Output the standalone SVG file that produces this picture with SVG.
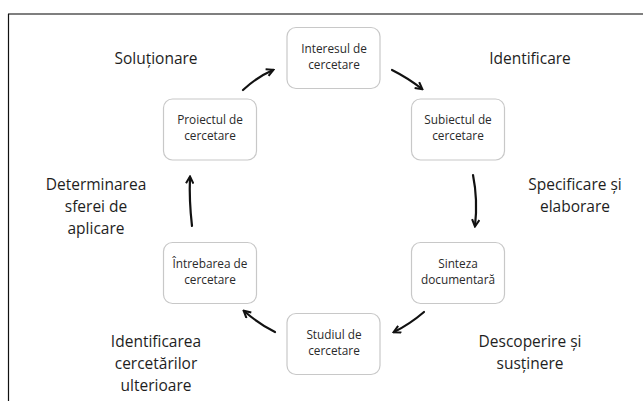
<svg xmlns="http://www.w3.org/2000/svg" width="643" height="401" viewBox="0 0 643 401">
<defs>
<style>
.box{fill:#fff;stroke:#c8c8c8;stroke-width:1.2}
.bt{font-family:"Open Sans","Liberation Sans",sans-serif;font-size:11.8px;fill:#2a2a2a;text-anchor:middle}
.lb{font-family:"Open Sans","Liberation Sans",sans-serif;font-size:15.5px;fill:#1e1e1e;text-anchor:middle}
.ar{fill:none;stroke:#111;stroke-width:2.2;stroke-linecap:round;marker-end:url(#ah)}
</style>
<marker id="ah" viewBox="0 0 10 10" refX="8" refY="5" markerWidth="4.2" markerHeight="4.2" orient="auto" markerUnits="strokeWidth">
<path d="M1,1 L8.5,5 L1,9" fill="none" stroke="#111" stroke-width="2.2" stroke-linejoin="miter"/>
</marker>
</defs>
<rect width="643" height="401" fill="#fff"/>
<g id="frame">
<line x1="8" y1="14" x2="643" y2="14" stroke="#555" stroke-width="1.5"/>
<line x1="8.5" y1="14" x2="8.5" y2="401" stroke="#111" stroke-width="1.2"/>
</g>
<g id="connectors">
<path class="ar" d="M243,90 Q257,77 273,70"/>
<path class="ar" d="M392,70 Q408,78 422,89"/>
<path class="ar" d="M473,175 Q478,200 475,226"/>
<path class="ar" d="M424,312 Q410,324 394,332"/>
<path class="ar" d="M275,332 Q259,324 244,311"/>
<path class="ar" d="M192,226 Q189,200 190,177"/>
</g>
<g id="n-interes"><rect class="box" x="287" y="27.5" width="93" height="61" rx="9"/><text class="bt" x="334" y="53">Interesul de</text><text class="bt" x="334" y="69">cercetare</text></g>
<g id="n-subiect"><rect class="box" x="411.5" y="99" width="93" height="61" rx="9"/><text class="bt" x="458" y="124">Subiectul de</text><text class="bt" x="458" y="140">cercetare</text></g>
<g id="n-sinteza"><rect class="box" x="411.5" y="242.5" width="93" height="61" rx="9"/><text class="bt" x="458" y="268">Sinteza</text><text class="bt" x="458" y="284">documentară</text></g>
<g id="n-studiu"><rect class="box" x="287" y="313.5" width="93" height="61" rx="9"/><text class="bt" x="334" y="339">Studiul de</text><text class="bt" x="334" y="355">cercetare</text></g>
<g id="n-intrebare"><rect class="box" x="163.5" y="242.5" width="93" height="61" rx="9"/><text class="bt" x="210" y="268">Întrebarea de</text><text class="bt" x="210" y="284">cercetare</text></g>
<g id="n-proiect"><rect class="box" x="163.5" y="99" width="93" height="61" rx="9"/><text class="bt" x="210" y="124">Proiectul de</text><text class="bt" x="210" y="140">cercetare</text></g>
<g id="labels">
<text class="lb" x="156" y="64">Soluționare</text>
<text class="lb" x="530" y="64">Identificare</text>
<text class="lb" x="575" y="190">Specificare și</text>
<text class="lb" x="575" y="212">elaborare</text>
<text class="lb" x="96" y="190">Determinarea</text>
<text class="lb" x="96" y="212">sferei de</text>
<text class="lb" x="96" y="234">aplicare</text>
<text class="lb" x="156" y="347">Identificarea</text>
<text class="lb" x="156" y="369">cercetărilor</text>
<text class="lb" x="156" y="391">ulterioare</text>
<text class="lb" x="530" y="347">Descoperire și</text>
<text class="lb" x="530" y="369">susținere</text>
</g>
</svg>
